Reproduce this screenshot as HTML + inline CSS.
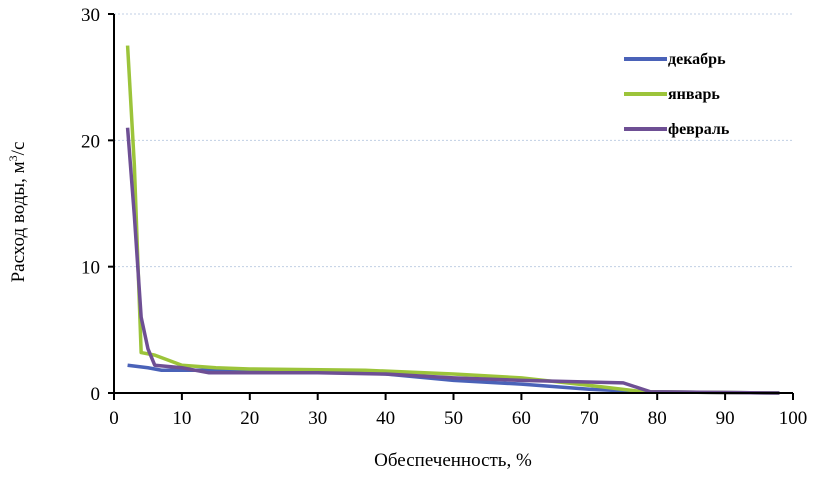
<!DOCTYPE html>
<html><head><meta charset="utf-8"><style>
html,body{margin:0;padding:0;background:#fff;width:819px;height:480px;overflow:hidden}
svg text{font-family:"Liberation Serif",serif;fill:#000}
</style></head><body>
<svg id="chart" width="819" height="480" xmlns="http://www.w3.org/2000/svg">
<g id="grid"></g>
<g id="series"></g>
<g id="axes"></g>
<text transform="translate(24,212) rotate(-90)" text-anchor="middle" font-size="19">Расход воды, м<tspan baseline-shift="super" font-size="12">3</tspan>/с</text>
<text x="453" y="466" text-anchor="middle" font-size="19">Обеспеченность, %</text>
<g id="legend"></g>
</svg>
<script>
const xTicks=[0,10,20,30,40,50,60,70,80,90,100];
const yTicks=[0,10,20,30];
const seriesNames=["декабрь","январь","февраль"];
const seriesColors=["#4a62b8","#9cc43a","#6e4f94"];
const decX=[2,5,7,13,30,40,50,60,70,78,98];
const decY=[2.2,2.0,1.8,1.8,1.8,1.5,1.0,0.7,0.3,0.1,0];
const janX=[2,3,4,6,10,15,20,37,50,60,70,78,98];
const janY=[27.5,18,3.2,3.0,2.2,2.0,1.9,1.8,1.5,1.2,0.6,0.1,0];
const febX=[2,3,4,5,6,10,14,30,40,50,60,75,79,98];
const febY=[21,14,6,3.5,2.2,2.0,1.6,1.6,1.5,1.2,1.0,0.8,0.1,0];
const X0=114,X1=793,Y0=393,Y1=14;
const sx=v=>X0+(v-0)/100*(X1-X0);
const sy=v=>Y0-(v-0)/30*(Y0-Y1);
const NS="http://www.w3.org/2000/svg";
function mk(tag,attrs,parent){const e=document.createElementNS(NS,tag);for(const k in attrs)e.setAttribute(k,attrs[k]);parent.appendChild(e);return e;}
const grid=document.getElementById('grid'),axes=document.getElementById('axes'),ser=document.getElementById('series'),leg=document.getElementById('legend');
yTicks.forEach(t=>{if(t===0)return;
 const l=mk('line',{x1:X0,x2:X1,y1:sy(t),y2:sy(t),stroke:'#c0cfe4','stroke-width':1,'stroke-dasharray':'2,2'},grid);
 
 });
const xs=[decX,janX,febX],ys=[decY,janY,febY];
xs.forEach((xa,i)=>{
 const pts=xa.map((x,j)=>sx(x)+','+sy(ys[i][j])).join(' ');
 const p=mk('polyline',{points:pts,fill:'none',stroke:seriesColors[i],'stroke-width':3.5,'stroke-linejoin':'round'},ser);
 
 
});
const ya=mk('line',{x1:X0,x2:X0,y1:Y1,y2:Y0,stroke:'#000','stroke-width':2},axes);


const xa=mk('line',{x1:X0,x2:X1,y1:Y0,y2:Y0,stroke:'#000','stroke-width':2},axes);


xTicks.forEach(t=>{
 const l=mk('line',{x1:sx(t),x2:sx(t),y1:Y0,y2:Y0+7,stroke:'#000','stroke-width':2},axes);
 
 
 const tx=mk('text',{x:sx(t),y:Y0+31,'text-anchor':'middle','font-size':19},axes);tx.textContent=t;
 
 
});
yTicks.forEach(t=>{
 const l=mk('line',{x1:X0-6,x2:X0,y1:sy(t),y2:sy(t),stroke:'#000','stroke-width':2},axes);
 
 
 const tx=mk('text',{x:X0-14,y:sy(t)+7,'text-anchor':'end','font-size':19},axes);tx.textContent=t;
 
 
});
seriesNames.forEach((n,i)=>{
 const y=59+i*35;
 const l=mk('line',{x1:624,x2:667,y1:y,y2:y,stroke:seriesColors[i],'stroke-width':4},leg);
 
 
 const tx=mk('text',{x:668,y:y+5,'font-size':16,'font-weight':'bold'},leg);tx.textContent=n;
 
 
});
</script>
</body></html>
